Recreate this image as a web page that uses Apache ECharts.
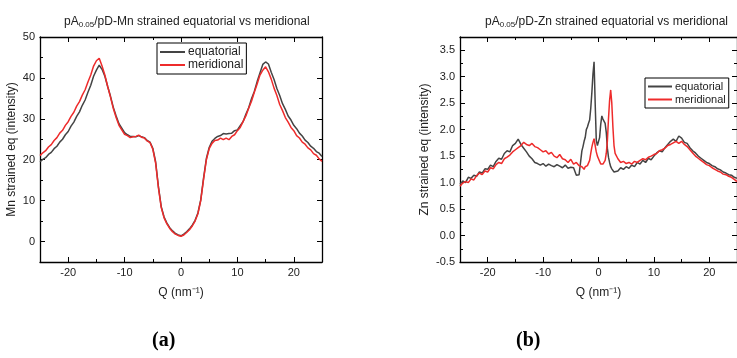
<!DOCTYPE html>
<html>
<head>
<meta charset="utf-8">
<script src="https://cdn.jsdelivr.net/npm/echarts@6/dist/echarts.min.js"></script>
<style>html,body{margin:0;padding:0;background:#fff;}#c{width:737px;height:358px;}</style>
</head>
<body>
<div id="c"></div>
<script>
// ---- data ----
const seriesNames = ['equatorial', 'meridional'];
const qMn = [-25,-24.5,-24,-23.5,-23,-22.5,-22,-21.5,-21,-20.5,-20,-19.5,-19,-18.5,-18,-17.5,-17,-16.5,-16,-15.5,-15,-14.5,-14,-13.5,-13,-12.5,-12,-11.5,-11,-10.5,-10,-9.5,-9,-8.5,-8,-7.5,-7,-6.5,-6,-5.5,-5,-4.5,-4,-3.5,-3,-2.5,-2,-1.5,-1,-0.5,0,0.5,1,1.5,2,2.5,3,3.5,4,4.5,5,5.5,6,6.5,7,7.5,8,8.5,9,9.5,10,10.5,11,11.5,12,12.5,13,13.5,14,14.5,15,15.5,16,16.5,17,17.5,18,18.5,19,19.5,20,20.5,21,21.5,22,22.5,23,23.5,24,24.5,25];
const mnEquatorial = [19.5,20.1,20.5,21.3,21.8,22.7,23.3,24.3,25.0,26.1,26.9,28.2,29.2,30.6,31.7,33.3,34.6,36.5,38.2,40.4,41.9,43.1,42.1,40.4,37.9,35.5,32.8,30.7,28.8,27.7,26.6,26.1,25.7,25.7,25.6,25.9,25.6,25.4,24.7,24.3,22.8,19.5,13.4,8.5,6.0,4.5,3.4,2.6,2.0,1.6,1.4,1.8,2.4,3.1,4.0,5.2,7.0,10.2,15.5,20.3,23.0,24.5,25.2,25.7,25.9,26.4,26.3,26.4,26.5,27.1,27.3,28.3,29.3,31.1,32.7,34.9,36.7,39.1,41.2,43.3,43.9,43.4,41.4,39.6,37.4,35.7,33.7,32.3,30.7,29.7,28.4,27.6,26.5,25.8,24.8,24.2,23.3,22.8,22.0,21.6,20.8];
const mnMeridional = [21.0,21.7,22.2,23.1,23.7,24.7,25.4,26.5,27.2,28.4,29.3,30.6,31.6,33.1,34.2,35.8,37.1,39.0,40.7,42.9,44.2,44.8,42.9,40.7,37.9,35.3,32.5,30.3,28.4,27.3,26.2,25.9,25.4,25.6,25.7,26.0,25.5,25.3,24.6,24.2,22.6,19.2,13.1,8.3,5.8,4.3,3.2,2.4,1.8,1.5,1.3,1.6,2.2,2.9,3.8,5.0,6.8,10.0,15.2,20.0,22.7,24.0,24.7,24.8,25.3,24.9,25.3,24.9,25.7,26.1,27.1,27.9,29.3,30.7,32.6,34.3,36.5,38.5,40.7,41.9,42.7,41.5,39.7,37.5,35.7,33.5,32.0,30.3,29.2,27.9,27.1,25.9,25.3,24.3,23.8,22.9,22.4,21.5,21.1,20.2,19.6];

const qZn = [-25,-24.5,-24,-23.5,-23,-22.5,-22,-21.5,-21,-20.5,-20,-19.5,-19,-18.5,-18,-17.5,-17,-16.5,-16,-15.5,-15,-14.5,-14,-13.5,-13,-12.5,-12,-11.5,-11,-10.5,-10,-9.5,-9,-8.5,-8,-7.5,-7,-6.5,-6,-5.5,-5,-4.5,-4,-3.5,
  -3.0,-2.8,-2.6,-2.4,-2.2,-2.0,-1.8,-1.6,-1.4,-1.2,-1.0,-0.8,-0.6,-0.4,-0.2,0.0,0.2,0.4,0.6,0.8,1.0,1.2,1.4,1.6,1.8,2.0,2.2,2.4,2.6,2.8,3.0,
  3.5,4,4.5,5,5.5,6,6.5,7,7.5,8,8.5,9,9.5,10,10.5,11,11.5,12,12.5,13,13.5,14,14.5,15,15.5,16,16.5,17,17.5,18,18.5,19,19.5,20,20.5,21,21.5,22,22.5,23,23.5,24,24.5,25];
const znEquatorial = [0.97,1.03,1.0,1.1,1.08,1.14,1.12,1.2,1.18,1.26,1.25,1.33,1.3,1.4,1.46,1.44,1.55,1.6,1.58,1.7,1.74,1.82,1.72,1.65,1.58,1.5,1.45,1.38,1.36,1.33,1.36,1.31,1.35,1.32,1.3,1.34,1.31,1.28,1.33,1.27,1.29,1.28,1.14,1.15,
  1.6,1.68,1.78,1.85,2.0,2.05,2.12,2.18,2.4,2.7,3.05,3.28,2.5,1.8,1.7,1.67,1.85,2.1,2.26,2.2,2.18,2.12,1.95,1.65,1.48,1.38,1.3,1.26,1.24,1.2,1.22,
  1.22,1.28,1.25,1.3,1.27,1.33,1.3,1.38,1.35,1.42,1.38,1.46,1.43,1.5,1.56,1.6,1.58,1.66,1.72,1.78,1.82,1.78,1.88,1.84,1.76,1.74,1.66,1.6,1.56,1.5,1.46,1.42,1.38,1.36,1.32,1.3,1.26,1.24,1.2,1.18,1.15,1.14,1.1,1.08];
const znMeridional = [0.93,0.99,1.02,1.0,1.07,1.05,1.13,1.18,1.15,1.22,1.2,1.28,1.26,1.34,1.38,1.36,1.45,1.48,1.52,1.58,1.62,1.66,1.7,1.76,1.72,1.7,1.74,1.68,1.66,1.62,1.58,1.6,1.54,1.57,1.5,1.47,1.53,1.45,1.43,1.38,1.44,1.35,1.38,1.32,
  1.3,1.27,1.25,1.3,1.28,1.32,1.35,1.42,1.55,1.67,1.76,1.83,1.7,1.58,1.5,1.45,1.4,1.35,1.33,1.35,1.38,1.42,1.55,1.78,2.2,2.55,2.75,2.5,2.05,1.7,1.55,
  1.45,1.38,1.4,1.36,1.38,1.35,1.4,1.38,1.42,1.45,1.43,1.48,1.5,1.53,1.55,1.6,1.62,1.65,1.7,1.72,1.75,1.78,1.74,1.78,1.72,1.68,1.62,1.56,1.5,1.46,1.42,1.38,1.34,1.32,1.28,1.25,1.22,1.2,1.16,1.15,1.12,1.1,1.06,1.02];

const xMajor = [-20,-10,0,10,20];
const xMinor = [-15,-5,5,15];
const mnYMajor = [0,10,20,30,40,50];
const mnYMinor = [-5,5,15,25,35,45];
const znYMajor = [-0.5,0,0.5,1,1.5,2,2.5,3,3.5];
const znYMinor = [-0.25,0.25,0.75,1.25,1.75,2.25,2.75,3.25,3.75];

// ---- chart ----
const FONT = 'Liberation Sans, Arial, sans-serif';
const colors = ['#444444', '#ee2b2b'];
const grids = [
  {left: 40, top: 37, width: 282, height: 225},
  {left: 460, top: 37, width: 280, height: 225}
];
const xAxes = [], yAxes = [];
function addAxes(list, gi, kind, pos, min, max, majors, minors, withLabels, fmt) {
  const base = {gridIndex: gi, type: 'value', min: min, max: max, position: pos, splitLine: {show: false}};
  list.push(Object.assign({}, base, {
    axisLine: {show: true, onZero: false, lineStyle: {color: '#000', width: 1.3}},
    axisTick: {show: true, inside: true, length: 5, customValues: majors, lineStyle: {color: '#000', width: 1}},
    axisLabel: withLabels ? {show: true, customValues: majors, color: '#222', fontSize: 11, fontFamily: FONT, margin: 5, formatter: fmt} : {show: false}
  }));
  list.push(Object.assign({}, base, {
    axisLine: {show: false, onZero: false},
    axisTick: {show: true, inside: true, length: 3, customValues: minors, lineStyle: {color: '#000', width: 1}},
    axisLabel: {show: false}
  }));
}
// grid 0
addAxes(xAxes, 0, 'x', 'bottom', -25, 25, xMajor, xMinor, true);
addAxes(xAxes, 0, 'x', 'top', -25, 25, xMajor, xMinor, false);
addAxes(yAxes, 0, 'y', 'left', -5, 50, mnYMajor, mnYMinor, true);
addAxes(yAxes, 0, 'y', 'right', -5, 50, mnYMajor, mnYMinor, false);
// grid 1
addAxes(xAxes, 1, 'x', 'bottom', -25, 25, xMajor, xMinor, true);
addAxes(xAxes, 1, 'x', 'top', -25, 25, xMajor, xMinor, false);
addAxes(yAxes, 1, 'y', 'left', -0.5, 3.75, znYMajor, znYMinor, true, v => v.toFixed(1));
addAxes(yAxes, 1, 'y', 'right', -0.5, 3.75, znYMajor, znYMinor, false);

const nameStyle = {color: '#222', fontSize: 12, fontFamily: FONT};
xAxes[0].name = 'Q (nm\u207B\u00B9)'; xAxes[0].nameLocation = 'middle'; xAxes[0].nameGap = 25; xAxes[0].nameTextStyle = nameStyle;
xAxes[4].name = 'Q (nm\u207B\u00B9)'; xAxes[4].nameLocation = 'middle'; xAxes[4].nameGap = 25; xAxes[4].nameTextStyle = nameStyle;
yAxes[0].name = 'Mn strained eq (intensity)'; yAxes[0].nameLocation = 'middle'; yAxes[0].nameGap = 22; yAxes[0].nameTextStyle = nameStyle;
yAxes[4].name = 'Zn strained eq (intensity)'; yAxes[4].nameLocation = 'middle'; yAxes[4].nameGap = 29; yAxes[4].nameTextStyle = nameStyle;

function pairs(xs, ys) { return xs.map((x, i) => [x, ys[i]]); }
function lineSeries(name, xs, ys, gi, color) {
  return {
    name: name, type: 'line', xAxisIndex: gi * 4, yAxisIndex: gi * 4,
    data: pairs(xs, ys), showSymbol: false, symbol: 'none', smooth: false,
    lineStyle: {color: color, width: 1.5}, itemStyle: {color: color}, animation: false
  };
}

const titleRich = {
  a: {fontSize: 12, fontFamily: FONT, color: '#222', fontWeight: 'normal'},
  s: {fontSize: 8, fontFamily: FONT, color: '#222', fontWeight: 'normal', padding: [6, 0, 0, 0]}
};
function legendCfg(left, top, fs, gap, w, pad) {
  return {
    data: seriesNames.map(n => ({name: n, icon: 'rect'})), orient: 'vertical', left: left, top: top,
    padding: pad, itemGap: gap, itemWidth: w, itemHeight: 2,
    borderColor: '#000', borderWidth: 1, borderRadius: 0,
    textStyle: {fontSize: fs, fontFamily: FONT, color: '#222', padding: [0, 0, 0, -2]}, selectedMode: false
  };
}
const option = {
  animation: false,
  backgroundColor: '#fff',
  grid: grids,
  xAxis: xAxes,
  yAxis: yAxes,
  title: [
    {text: '{a|pA}{s|0.05}{a|/pD-Mn strained equatorial vs meridional}', left: 59, top: 10, textStyle: {fontWeight: 'normal', rich: titleRich}},
    {text: '{a|pA}{s|0.05}{a|/pD-Zn strained equatorial vs meridional}', left: 480, top: 10, textStyle: {fontWeight: 'normal', rich: titleRich}}
  ],
  legend: [legendCfg(157, 43, 12, 1, 25, [3, 3, 3, 3]), legendCfg(645, 78, 11, 2, 24, [3, 3, 3, 3])],
  graphic: [
    {type: 'text', left: 152, top: 331, style: {text: '(a)', font: 'bold 20px "Liberation Serif", "Times New Roman", serif', fill: '#000'}},
    {type: 'text', left: 516, top: 331, style: {text: '(b)', font: 'bold 20px "Liberation Serif", "Times New Roman", serif', fill: '#000'}}
  ],
  series: [
    lineSeries('equatorial', qMn, mnEquatorial, 0, colors[0]),
    lineSeries('meridional', qMn, mnMeridional, 0, colors[1]),
    lineSeries('equatorial', qZn, znEquatorial, 1, colors[0]),
    lineSeries('meridional', qZn, znMeridional, 1, colors[1])
  ]
};
const chart = echarts.init(document.getElementById('c'), null, {renderer: 'canvas'});
chart.setOption(option);
</script>
</body>
</html>
